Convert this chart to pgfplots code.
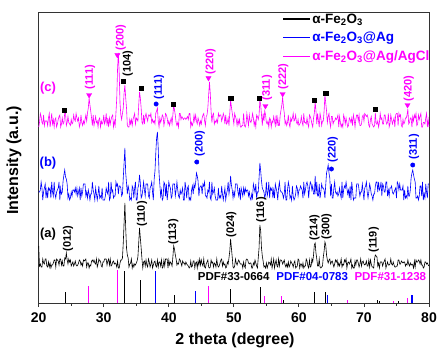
\documentclass[border=0pt]{standalone}
\usepackage{pgfplots}
\pgfplotsset{compat=1.18}
\usepackage{pgfplotstable}
\usepackage{fontspec}
\setmainfont{Liberation Sans}
\definecolor{mag}{RGB}{255,0,255}
\definecolor{blu}{RGB}{0,0,255}

\pgfplotstableread{
x a b c
20 57 111 176
20.125 37 111 180.5
20.25 39 113 189.5
20.375 36 121 186.5
20.5 36 115 180.5
20.625 44 103 179
20.75 40 111 188
20.875 39 115 177.5
21 44 119 182
21.125 44 105 182
21.25 37 113 182
21.375 36 105 177.5
21.5 41 115 185
21.625 36 113 189.5
21.75 40 115 176
21.875 35 105 182
22 38 121 189.5
22.125 38 111 179
22.25 40 107 183.5
22.375 43 121 176
22.5 43 109 183.5
22.625 36 105 185
22.75 44 111 176
22.875 43 113 179
23 42 115 183.5
23.125 38 121 186.5
23.25 44 103 188
23.375 44 115 176
23.5 38 109 179
23.625 42 111 185
23.75 37 122 179
23.875 37 128 180.5
24 45 133 190
24.125 44 126 189.5
24.25 50 124 177.5
24.375 43 119 180.5
24.5 39 105 186.5
24.625 44 109 180.5
24.75 41 103 179
24.875 43 105 177.5
25 37 111 183.5
25.125 39 107 179
25.25 41 113 180.5
25.375 37 113 188
25.5 39 111 183.5
25.625 42 115 182
25.75 38 109 189.5
25.875 37 115 185
26 38 107 182
26.125 40 111 185
26.25 43 115 176
26.375 42 103 179
26.5 38 115 188
26.625 40 107 180.5
26.75 37 111 177.5
26.875 43 119 182
27 42 119 179
27.125 43 119 183.5
27.25 44 107 188
27.375 36 111 182
27.5 40 105 190
27.625 40 113 195
27.75 35 109 205
27.875 38 103 198
28 37 109 192
28.125 42 109 185
28.25 43 121 177.5
28.375 41 113 188
28.5 43 109 177.5
28.625 40 103 182
28.75 39 115 186.5
28.875 44 109 180.5
29 36 103 182
29.125 39 109 176
29.25 44 117 183.5
29.375 42 105 185
29.5 42 107 176
29.625 37 105 182
29.75 36 115 179
29.875 41 103 180.5
30 41 103 188
30.125 44 103 179
30.25 44 107 182
30.375 44 115 189.5
30.5 38 111 177.5
30.625 42 109 185
30.75 44 121 176
30.875 38 103 185
31 44 105 179
31.125 37 121 183.5
31.25 38 111 186.5
31.375 41 113 188
31.5 42 105 176
31.625 39 107 182
31.75 40 107 177.5
31.875 39 121 190
32 36 117 205
32.125 42 119 235
32.25 35 109 250
32.375 35 117 230
32.5 40 117 200
32.625 43 115 188
32.75 43 107 183.5
32.875 45 109 189.5
33 60 125 195
33.125 80 140 210
33.25 100 155 218
33.375 75 130 205
33.5 55 120 195
33.625 48 109 177.5
33.75 45 117 176
33.875 36 113 176
34 39 103 183.5
34.125 40 105 179
34.25 44 103 183.5
34.375 35 117 177.5
34.5 39 115 183.5
34.625 36 105 186.5
34.75 39 115 189.5
34.875 38 121 179
35 40 103 185
35.125 42 103 183.5
35.25 46 115 182
35.375 60 118 198
35.5 75 128 211
35.625 65 120 205
35.75 55 105 195
35.875 44 107 180.5
36 35 113 179
36.125 41 121 188
36.25 42 113 179
36.375 37 107 186.5
36.5 43 119 189.5
36.625 38 119 185
36.75 36 119 182
36.875 44 107 188
37 41 105 188
37.125 36 115 186.5
37.25 39 117 189.5
37.375 43 121 180.5
37.5 35 111 183.5
37.625 38 103 180.5
37.75 41 124 182
37.875 42 132 179
38 37 150 190
38.125 36 165 192
38.25 43 171 195
38.375 36 155 182
38.5 41 130 176
38.625 41 118 185
38.75 37 107 180.5
38.875 43 113 183.5
39 35 103 188
39.125 36 105 186.5
39.25 43 121 177.5
39.375 37 119 182
39.5 44 107 189.5
39.625 44 119 188
39.75 44 103 185
39.875 35 111 179
40 43 121 182
40.125 38 117 177.5
40.25 41 115 182
40.375 40 105 185
40.5 37 107 179
40.625 46 119 188
40.75 57 119 198
40.875 54 119 193
41 48 107 188
41.125 44 113 180.5
41.25 38 121 177.5
41.375 40 113 180.5
41.5 39 107 176
41.625 44 105 189.5
41.75 43 113 189.5
41.875 40 109 183.5
42 37 111 186.5
42.125 42 115 185
42.25 40 103 183.5
42.375 40 103 185
42.5 38 121 185
42.625 41 115 183.5
42.75 39 105 185
42.875 38 115 186.5
43 37 117 183.5
43.125 35 103 189.5
43.25 36 105 189.5
43.375 42 103 176
43.5 36 113 180.5
43.625 37 117 177.5
43.75 42 109 180.5
43.875 42 119 188
44 35 115 182
44.125 40 120 188
44.25 41 130 182
44.375 35 127 179
44.5 42 122 185
44.625 38 107 182
44.75 44 115 177.5
44.875 38 117 182
45 43 117 179
45.125 39 109 185
45.25 37 119 188
45.375 44 117 189.5
45.5 36 121 182
45.625 35 107 177.5
45.75 39 107 186.5
45.875 41 105 188
46 43 113 195
46.125 36 111 208
46.25 35 121 221
46.375 36 105 210
46.5 43 103 192
46.625 40 121 180.5
46.75 41 109 188
46.875 36 111 189.5
47 40 115 179
47.125 39 107 182
47.25 36 103 180.5
47.375 44 103 183.5
47.5 38 103 180.5
47.625 36 115 189.5
47.75 37 105 186.5
47.875 40 107 188
48 43 105 188
48.125 44 117 182
48.25 37 109 185
48.375 41 103 189.5
48.5 38 109 186.5
48.625 39 115 179
48.75 35 103 188
48.875 36 109 179
49 41 113 180.5
49.125 39 121 185
49.25 45 109 177.5
49.375 52 115 190
49.5 64 127 203
49.625 55 118 196
49.75 46 113 190
49.875 36 105 185
50 35 111 179
50.125 37 107 189.5
50.25 44 119 186.5
50.375 40 119 183.5
50.5 38 119 177.5
50.625 41 111 183.5
50.75 43 107 179
50.875 41 115 183.5
51 39 103 176
51.125 39 115 176
51.25 39 111 177.5
51.375 35 107 177.5
51.5 41 115 189.5
51.625 37 109 177.5
51.75 35 115 176
51.875 43 111 179
52 44 113 189.5
52.125 43 113 183.5
52.25 40 107 177.5
52.375 39 111 188
52.5 40 105 182
52.625 40 103 180.5
52.75 35 109 183.5
52.875 35 105 189.5
53 40 119 185
53.125 38 115 177.5
53.25 43 111 182
53.375 40 119 176
53.5 37 105 188
53.625 35 111 186.5
53.75 45 111 183.5
53.875 55 125 188
54 78 140 203
54.125 72 132 198
54.25 55 122 188
54.375 47 115 177.5
54.5 42 113 189.5
54.625 36 111 182
54.75 37 105 192
54.875 35 109 188
55 40 121 180.5
55.125 35 107 179
55.25 38 111 182
55.375 41 121 176
55.5 40 105 185
55.625 38 115 183.5
55.75 44 113 176
55.875 35 115 182
56 39 105 180.5
56.125 44 113 186.5
56.25 35 105 182
56.375 40 119 177.5
56.5 43 115 188
56.625 37 111 177.5
56.75 36 103 185
56.875 44 115 177.5
57 37 121 177.5
57.125 43 113 188
57.25 43 111 193
57.375 42 111 198
57.5 39 109 206
57.625 41 105 196
57.75 43 109 190
57.875 38 121 179
58 36 103 182
58.125 39 103 177.5
58.25 36 113 180.5
58.375 41 121 188
58.5 36 117 179
58.625 38 105 176
58.75 42 107 185
58.875 40 103 182
59 39 117 185
59.125 36 107 189.5
59.25 40 103 182
59.375 42 105 183.5
59.5 35 109 188
59.625 36 117 180.5
59.75 37 115 179
59.875 44 107 183.5
60 43 113 177.5
60.125 35 113 179
60.25 39 117 180.5
60.375 39 115 186.5
60.5 36 113 180.5
60.625 40 105 177.5
60.75 35 121 189.5
60.875 37 109 180.5
61 37 113 180.5
61.125 44 119 179
61.25 42 121 185
61.375 37 117 179
61.5 35 105 176
61.625 43 115 188
61.75 36 121 186.5
61.875 37 119 183.5
62 44 113 179
62.125 41 117 176
62.25 48 109 185
62.375 58 109 190
62.5 60 127 201
62.625 50 109 192
62.75 44 121 179
62.875 37 107 189.5
63 37 107 182
63.125 44 119 176
63.25 36 105 189.5
63.375 35 111 185
63.5 36 119 177.5
63.625 37 115 182
63.75 46 115 182
63.875 52 113 192
64 61 105 208
64.125 58 118 200
64.25 48 130 192
64.375 43 134 180.5
64.5 40 138 186.5
64.625 43 130 189.5
64.75 44 125 180.5
64.875 39 107 176
65 41 119 186.5
65.125 42 105 186.5
65.25 39 105 179
65.375 36 115 182
65.5 39 121 182
65.625 43 111 185
65.75 41 109 183.5
65.875 43 111 185
66 37 107 188
66.125 40 109 176
66.25 37 115 186.5
66.375 40 109 180.5
66.5 44 105 176
66.625 36 121 179
66.75 39 105 176
66.875 38 113 188
67 43 117 185
67.125 41 115 179
67.25 44 121 185
67.375 35 115 180.5
67.5 40 109 176
67.625 41 113 177.5
67.75 39 105 185
67.875 41 117 183.5
68 44 103 180.5
68.125 35 121 185
68.25 38 113 177.5
68.375 35 103 188
68.5 35 105 183.5
68.625 42 105 176
68.75 38 105 183.5
68.875 43 119 188
69 43 119 188
69.125 40 119 182
69.25 36 113 188
69.375 39 107 177.5
69.5 44 111 177.5
69.625 37 111 179
69.75 41 119 186.5
69.875 42 111 188
70 39 103 182
70.125 38 115 189.5
70.25 39 117 188
70.375 42 121 186.5
70.5 37 111 188
70.625 37 105 185
70.75 43 111 177.5
70.875 36 119 176
71 43 115 183.5
71.125 39 109 186.5
71.25 36 107 179
71.375 36 103 177.5
71.5 35 109 176
71.625 44 109 177.5
71.75 48 117 190
71.875 47 121 179
72 46 121 179
72.125 37 111 182
72.25 40 121 176
72.375 35 113 180.5
72.5 41 115 189.5
72.625 41 121 183.5
72.75 41 107 185
72.875 37 119 179
73 40 117 179
73.125 42 111 188
73.25 44 111 188
73.375 35 121 182
73.5 38 121 179
73.625 41 107 180.5
73.75 38 113 189.5
73.875 38 107 176
74 39 115 179
74.125 44 115 188
74.25 39 117 183.5
74.375 38 111 179
74.5 41 109 182
74.625 38 111 185
74.75 36 113 176
74.875 36 115 188
75 37 105 189.5
75.125 37 121 189.5
75.25 43 119 177.5
75.375 43 113 189.5
75.5 39 119 186.5
75.625 39 113 188
75.75 42 113 177.5
75.875 41 113 176
76 40 117 183.5
76.125 41 103 179
76.25 41 113 180.5
76.375 37 105 185
76.5 39 107 185
76.625 38 105 188
76.75 43 117 194
76.875 39 107 179
77 37 107 180.5
77.125 40 113 185
77.25 38 125 185
77.375 39 130 176
77.5 38 133 186.5
77.625 35 128 182
77.75 42 124 188
77.875 36 121 185
78 43 105 189.5
78.125 41 105 177.5
78.25 41 107 179
78.375 43 103 188
78.5 42 107 183.5
78.625 39 117 186.5
78.75 43 117 189.5
78.875 38 107 176
79 38 121 176
79.125 35 103 180.5
79.25 36 109 180.5
79.375 41 105 179
79.5 41 119 185
79.625 39 111 189.5
79.75 40 105 176
79.875 38 119 183.5
80 37 119 176
}\xrd

\newcommand{\hkl}[4]{\node[rotate=90, anchor=west, text=#1, font=\bfseries\fontsize{11}{12}\selectfont, inner sep=0.5pt] at (axis cs:#2,#3) {#4};}

\begin{document}
\begin{tikzpicture}
\useasboundingbox (-38.7pt,-48pt) rectangle (399.3pt,303pt);
\begin{axis}[
  at={(0,0)}, anchor=south west,
  scale only axis, width=390.3pt, height=291pt,
  xmin=20, xmax=80, ymin=0, ymax=291,
  xtick={20,30,...,80}, minor x tick num=1,
  ytick=\empty,
  tick align=outside, major tick length=4pt, minor tick length=2.5pt,
  xtick pos=bottom,
  axis line style={line width=0.9pt, black!80},
  every tick/.style={black!80, line width=0.9pt},
  /pgf/number format/assume math mode=true,
  xticklabel style={font=\bfseries\fontsize{14}{16}\selectfont, yshift=-2pt},
  xlabel={2 theta (degree)}, ylabel={Intensity (a.u.)},
  label style={font=\bfseries\fontsize{16}{18}\selectfont},
  xlabel style={at={(axis description cs:0.503,-0.127)}, anchor=center},
  ylabel style={at={(axis description cs:-0.063,0.49)}, anchor=center},
  clip=false,
  legend style={at={(axis description cs:0.6234,1.0)}, anchor=north west, draw=none, fill=none, inner sep=0pt, row sep=4.5pt, font=\bfseries\fontsize{13.5}{15}\selectfont, nodes={inner sep=1.5pt}},
  legend image code/.code={\draw[#1, line width=1.6pt] (0pt,0pt) -- (27pt,0pt);},
  legend cell align=left,
]
\addplot[black, line width=0.6pt] table[x=x, y=a] {\xrd};
\addlegendentry{\textcolor{black}{α-Fe\textsubscript{2}O\textsubscript{3}}}
\addplot[blu, line width=0.6pt] table[x=x, y=b] {\xrd};
\addlegendentry{\textcolor{blu}{α-Fe\textsubscript{2}O\textsubscript{3}@Ag}}
\addplot[mag, line width=0.6pt] table[x=x, y=c] {\xrd};
\addlegendentry{\textcolor{mag}{α-Fe\textsubscript{2}O\textsubscript{3}@Ag/AgCl}}

% reference patterns
\addplot[ycomb, black, line width=0.8pt, forget plot] coordinates {(24.1,11) (33.15,32) (35.6,23) (40.85,8) (49.5,14) (54.1,16) (57.6,3) (62.45,11) (64.0,11) (72.0,3) (72.3,2) (75.35,2)};
\addplot[ycomb, mag, line width=1pt, forget plot] coordinates {(27.6,17) (32.05,33) (46.1,17) (54.7,7) (57.4,7) (67.4,3) (74.6,2) (76.65,5)};
\addplot[ycomb, blu, line width=1.2pt, forget plot] coordinates {(38.0,32) (44.1,12) (64.35,8) (77.4,8)};

% phase markers
\addplot[only marks, mark=square*, mark size=2.2pt, black, forget plot] coordinates {(23.9,193) (33.0,222) (35.8,215) (40.7,199) (49.5,205) (53.9,205) (62.35,203) (64.1,210) (71.7,194)};
\addplot[only marks, mark=triangle*, mark size=3pt, mark options={rotate=180}, mag, forget plot] coordinates {(27.75,208) (32.1,248) (46.1,225) (54.85,197) (57.5,209) (76.7,198)};
\addplot[only marks, mark=*, mark size=2.2pt, blu, forget plot] coordinates {(38.05,199) (44.3,141) (65.0,134) (77.5,138)};

% hkl labels (a)
\hkl{black}{24.5}{51}{(012)}
\hkl{black}{35.9}{76}{(110)}
\hkl{black}{40.7}{58}{(113)}
\hkl{black}{49.6}{65}{(024)}
\hkl{black}{54.2}{80}{(116)}
\hkl{black}{62.4}{62}{(214)}
\hkl{black}{64.25}{63}{(300)}
\hkl{black}{71.5}{50}{(119)}
% (b)
\hkl{blu}{44.75}{146}{(200)}
\hkl{blu}{65.2}{140}{(220)}
\hkl{blu}{77.7}{143}{(311)}
% (c)
\hkl{mag}{27.9}{213}{(111)}
\hkl{mag}{32.6}{252}{(200)}
\hkl{black}{33.7}{226}{(104)}
\hkl{blu}{38.5}{203}{(111)}
\hkl{mag}{46.4}{228}{(220)}
\hkl{mag}{55.1}{202}{(311)}
\hkl{mag}{57.6}{213}{(222)}
\hkl{mag}{76.9}{201}{(420)}

\node[font=\bfseries\fontsize{13}{14}\selectfont, text=black] at (axis cs:21.43,69) {(a)};
\node[font=\bfseries\fontsize{13}{14}\selectfont, text=blu] at (axis cs:21.43,140) {(b)};
\node[font=\bfseries\fontsize{13}{14}\selectfont, text=mag] at (axis cs:21.43,215) {(c)};

\node[font=\bfseries\fontsize{11.5}{12}\selectfont, text=black] at (axis cs:49.97,26) {PDF\#33-0664};
\node[font=\bfseries\fontsize{11.5}{12}\selectfont, text=blu] at (axis cs:62.05,26) {PDF\#04-0783};
\node[font=\bfseries\fontsize{11.5}{12}\selectfont, text=mag] at (axis cs:74.05,26) {PDF\#31-1238};
\end{axis}
\end{tikzpicture}
\end{document}
